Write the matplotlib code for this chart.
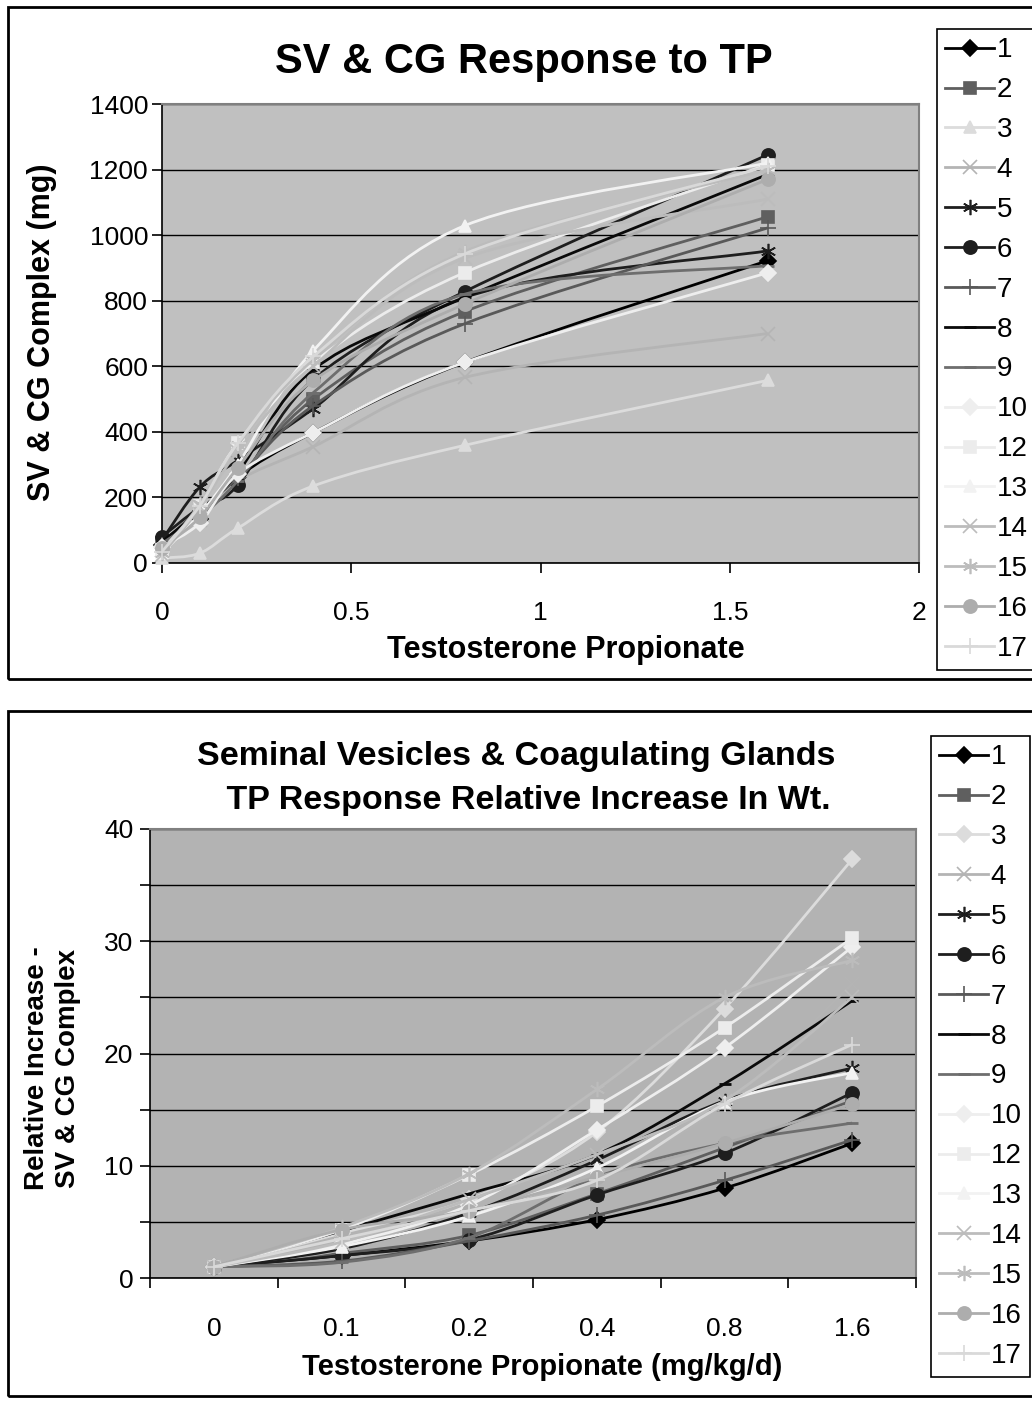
import numpy as np
import matplotlib
matplotlib.use("Agg")
import matplotlib.pyplot as plt
from matplotlib.path import Path
from matplotlib.patches import PathPatch, Rectangle
from matplotlib.lines import Line2D
from matplotlib.ticker import FixedLocator, FuncFormatter

plt.rcParams['font.family'] = ['Liberation Sans', 'DejaVu Sans']

# ---- data -------------------------------------------------------------
series_names = ['1', '2', '3', '4', '5', '6', '7', '8', '9', '10',
                '12', '13', '14', '15', '16', '17']

# top chart: SV & CG complex weight (mg) vs TP dose
tp_dose = [0, 0.1, 0.2, 0.4, 0.8, 1.6]
mg_1 = [55, 135, 262, 398, 612, 922]
mg_2 = [60, 165, 255, 500, 767, 1056]
mg_3 = [15, 30, 106, 235, 359, 557]
mg_4 = [40, 130, 250, 355, 566, 700]
mg_5 = [70, 232, 313, 471, 810, 952]
mg_6 = [80, 170, 237, 560, 828, 1245]
mg_7 = [55, 160, 260, 480, 730, 1022]
mg_8 = [65, 160, 275, 590, 810, 1185]
mg_9 = [60, 140, 250, 520, 820, 907]
mg_10 = [50, 122, 271, 398, 612, 885]
mg_12 = [40, 175, 365, 612, 886, 1215]
mg_13 = [30, 150, 300, 648, 1029, 1220]
mg_14 = [25, 170, 340, 600, 930, 1110]
mg_15 = [30, 180, 360, 620, 950, 1200]
mg_16 = [45, 140, 290, 557, 790, 1170]
mg_17 = [35, 175, 365, 630, 943, 1210]
mg_values = [mg_1, mg_2, mg_3, mg_4, mg_5, mg_6, mg_7, mg_8, mg_9, mg_10,
             mg_12, mg_13, mg_14, mg_15, mg_16, mg_17]

# bottom chart: relative increase, categorical dose axis
dose_labels = ['0', '0.1', '0.2', '0.4', '0.8', '1.6']
rel_1 = [1, 2.0, 3.3, 5.2, 8.0, 12.0]
rel_2 = [1, 2.2, 3.8, 7.5, 11.6, 15.8]
rel_3 = [1, 4.0, 7.0, 13.0, 24.0, 37.3]
rel_4 = [1, 2.5, 5.5, 9.0, 15.5, 26.2]
rel_5 = [1, 2.6, 5.8, 10.5, 15.8, 18.7]
rel_6 = [1, 2.0, 3.4, 7.4, 11.1, 16.5]
rel_7 = [1, 1.5, 3.3, 5.6, 8.7, 12.3]
rel_8 = [1, 4.2, 7.5, 11.0, 17.3, 24.7]
rel_9 = [1, 1.4, 3.6, 9.0, 12.0, 13.8]
rel_10 = [1, 3.0, 6.5, 13.2, 20.5, 29.5]
rel_12 = [1, 4.3, 9.2, 15.3, 22.3, 30.3]
rel_13 = [1, 2.8, 5.5, 9.8, 15.7, 18.3]
rel_14 = [1, 3.2, 7.0, 11.0, 15.8, 25.0]
rel_15 = [1, 4.5, 9.3, 16.8, 25.0, 28.3]
rel_16 = [1, 4.3, 6.0, 9.0, 12.0, 15.5]
rel_17 = [1, 3.5, 6.0, 8.7, 15.5, 20.8]
rel_values = [rel_1, rel_2, rel_3, rel_4, rel_5, rel_6, rel_7, rel_8, rel_9,
              rel_10, rel_12, rel_13, rel_14, rel_15, rel_16, rel_17]

# ---- styles -------------------------------------------------------------
colors = ['#000000', '#5f5f5f', '#dcdcdc', '#b4b4b4', '#1e1e1e', '#1e1e1e',
          '#595959', '#0a0a0a', '#6e6e6e', '#eeeeee', '#ececec', '#f2f2f2',
          '#bcbcbc', '#bcbcbc', '#adadad', '#d9d9d9']
ASTER = (6, 2, 0)
markers_top = ['D', 's', '^', 'x', ASTER, 'o', '+', '_', '_', 'D', 's', '^',
               'x', ASTER, 'o', '+']
markers_bot = list(markers_top)
markers_bot[2] = 'D'
msize = {'D': 8, 's': 8, '^': 9, 'x': 10, 'o': 9.5, '+': 12, '_': 8}

W, H = 1032, 1401


def fx(px):
    return px / W


def fy(py):
    return 1 - py / H


def smooth_path(xs, ys):
    # bezier curve through the points, like a spreadsheet "smoothed line"
    pts = np.column_stack([xs, ys]).astype(float)
    n = len(pts)
    verts = [pts[0]]
    codes = [Path.MOVETO]
    for i in range(n - 1):
        p0 = pts[max(i - 1, 0)]
        p1 = pts[i]
        p2 = pts[i + 1]
        p3 = pts[min(i + 2, n - 1)]
        verts += [p1 + (p2 - p0) / 6, p2 - (p3 - p1) / 6, p2]
        codes += [Path.CURVE4] * 3
    return Path(verts, codes)


def draw_series(ax, xs, values, markers):
    for k, (ys, c, m) in enumerate(zip(values, colors, markers)):
        z = 3 + k * 0.1
        ax.add_patch(PathPatch(smooth_path(xs, ys), fc='none', ec=c, lw=2.0,
                               zorder=z, transform=ax.transData))
        ms = msize.get(m, 11)
        mew = 2 if m == '_' else 1.2
        ax.plot(xs, ys, ls='none', marker=m, ms=ms, mfc=c, mec=c, mew=mew,
                zorder=z + 0.05, clip_on=False)


def make_legend(fig, markers, x0, y0):
    handles = []
    for c, m in zip(colors, markers):
        ms = msize.get(m, 11)
        mew = 2 if m == '_' else 1.2
        handles.append(Line2D([], [], color=c, lw=2.0, marker=m, ms=ms,
                              mfc=c, mec=c, mew=mew))
    leg = fig.legend(handles, series_names, loc='upper left',
                     bbox_to_anchor=(fx(x0), fy(y0)),
                     bbox_transform=fig.transFigure, fontsize=20,
                     frameon=True, fancybox=False, edgecolor='black',
                     framealpha=1, borderaxespad=0, borderpad=0.3,
                     handlelength=1.75, handletextpad=0.1,
                     labelspacing=0.5)
    leg.get_frame().set_linewidth(1.2)
    return leg


fig = plt.figure(figsize=(W / 100, H / 100), dpi=100)

# outer chart borders
for top, bot in [(7, 679), (711, 1396)]:
    fig.patches.append(Rectangle((fx(8), fy(bot)), fx(1045) - fx(8),
                                 fy(top) - fy(bot), transform=fig.transFigure,
                                 fill=False, ec='black', lw=2))

# ---- top chart -------------------------------------------------------------
ax1 = fig.add_axes([fx(162), fy(563), fx(919) - fx(162), fy(104) - fy(563)])
ax1.set_facecolor('#c0c0c0')
ax1.set_xlim(0, 2)
ax1.set_ylim(0, 1400)
ax1.set_xticks([0, 0.5, 1, 1.5, 2])
ax1.set_xticklabels(['0', '0.5', '1', '1.5', '2'])
ax1.set_yticks(range(0, 1401, 200))
ax1.yaxis.grid(True, color='black', lw=1)
ax1.set_axisbelow(True)
ax1.tick_params(labelsize=19, length=7, width=1.2, direction='out')
ax1.tick_params(axis='x', pad=20)
ax1.tick_params(axis='y', pad=3)
for s in ['top', 'right']:
    ax1.spines[s].set_color('#808080')
    ax1.spines[s].set_linewidth(1.5)
for s in ['left', 'bottom']:
    ax1.spines[s].set_color('black')
    ax1.spines[s].set_linewidth(1.2)
draw_series(ax1, tp_dose, mg_values, markers_top)

fig.text(fx(524), fy(62), 'SV & CG Response to TP', fontsize=30,
         fontweight='bold', ha='center', va='center')
fig.text(fx(566), fy(650), 'Testosterone Propionate', fontsize=22,
         fontweight='bold', ha='center', va='center')
fig.text(fx(42), fy(332), 'SV & CG Complex (mg)', fontsize=22,
         fontweight='bold', ha='center', va='center', rotation=90)
make_legend(fig, markers_top, 937, 29)

# ---- bottom chart ------------------------------------------------------------
ax2 = fig.add_axes([fx(150), fy(1278), fx(916) - fx(150), fy(829) - fy(1278)])
ax2.set_facecolor('#b3b3b3')
cat_x = np.arange(len(dose_labels))
ax2.set_xlim(-0.5, len(dose_labels) - 0.5)
ax2.set_ylim(0, 40)
ax2.set_xticks(cat_x)
ax2.set_xticklabels(dose_labels)
ax2.xaxis.set_minor_locator(FixedLocator(np.arange(-0.5, len(dose_labels), 1)))
ax2.tick_params(axis='x', which='major', length=0, pad=28, labelsize=19)
ax2.tick_params(axis='x', which='minor', length=7, width=1.2)
ax2.set_yticks(range(0, 41, 5))
ax2.yaxis.set_major_formatter(FuncFormatter(
    lambda v, p: '%d' % v if int(v) % 10 == 0 else ''))
ax2.tick_params(axis='y', labelsize=19, length=7, width=1.2, pad=5)
ax2.yaxis.grid(True, color='black', lw=1)
ax2.set_axisbelow(True)
for s in ['top', 'right']:
    ax2.spines[s].set_color('#808080')
    ax2.spines[s].set_linewidth(1.5)
for s in ['left', 'bottom']:
    ax2.spines[s].set_color('black')
    ax2.spines[s].set_linewidth(1.2)
draw_series(ax2, cat_x, rel_values, markers_bot)

fig.text(fx(516), fy(757), 'Seminal Vesicles & Coagulating Glands',
         fontsize=24.5, fontweight='bold', ha='center', va='center')
fig.text(fx(524), fy(800), ' TP Response Relative Increase In Wt.',
         fontsize=24.5, fontweight='bold', ha='center', va='center')
fig.text(fx(542), fy(1367), 'Testosterone Propionate (mg/kg/d)', fontsize=21,
         fontweight='bold', ha='center', va='center')
fig.text(fx(37), fy(1068), 'Relative Increase -', fontsize=20,
         fontweight='bold', ha='center', va='center', rotation=90)
fig.text(fx(68), fy(1068), 'SV & CG Complex', fontsize=20,
         fontweight='bold', ha='center', va='center', rotation=90)
make_legend(fig, markers_bot, 931, 736)

fig.savefig('out.png', dpi=100)
